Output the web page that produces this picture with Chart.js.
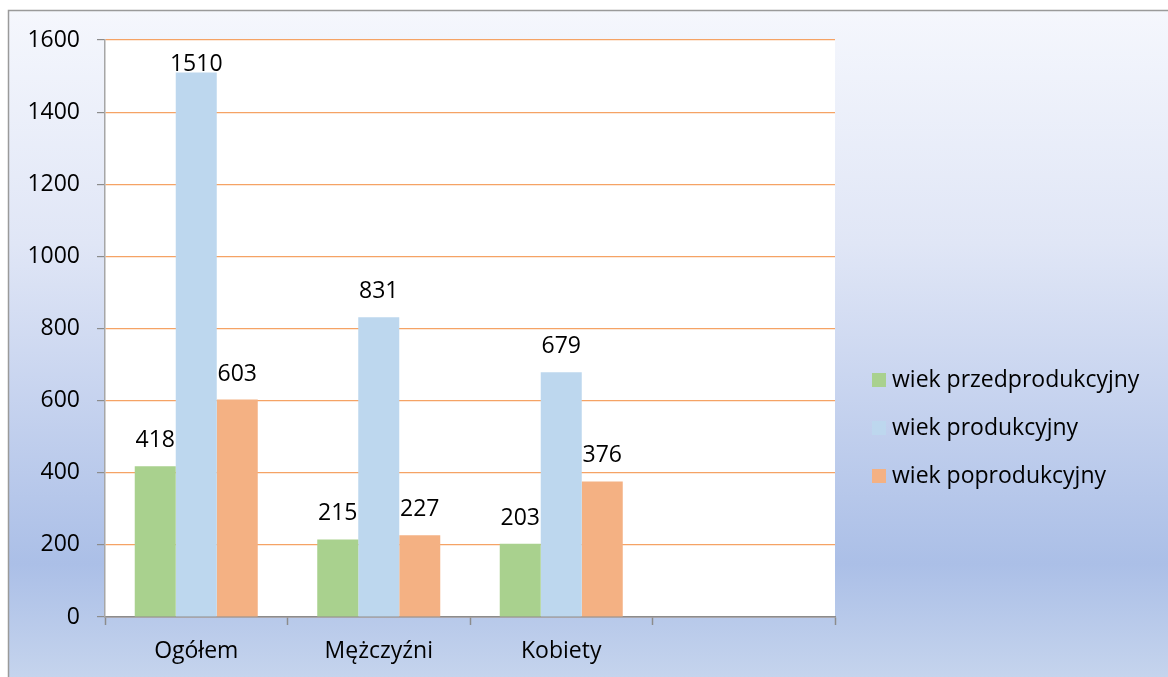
<!DOCTYPE html>
<html>
<head>
<meta charset="utf-8">
<script src="https://cdn.jsdelivr.net/npm/chart.js@4"></script>
<style>
html,body{margin:0;padding:0;background:#fff;}
#wrap{width:1168px;height:677px;position:relative;}
</style>
</head>
<body>
<div id="wrap"><canvas id="c" width="1168" height="677"></canvas></div>
<script>
const categories = ["Ogółem", "Mężczyźni", "Kobiety", ""];
const seriesNames = ["wiek przedprodukcyjny", "wiek produkcyjny", "wiek poprodukcyjny"];
const przedprodukcyjny = [418, 215, 203, null];
const produkcyjny = [1510, 831, 679, null];
const poprodukcyjny = [603, 227, 376, null];
const yTicks = [0, 200, 400, 600, 800, 1000, 1200, 1400, 1600];

const colors = ["#a9d18e", "#bdd7ee", "#f4b183"];
const FONT = "'Open Sans', 'Noto Sans', sans-serif";
const FS = 23;

const bgPlugin = {
  id: 'bg',
  beforeDraw(chart) {
    const ctx = chart.ctx, W = chart.width, H = chart.height;
    ctx.save();
    const g = ctx.createLinearGradient(0, 10, 0, H);
    g.addColorStop(0, '#f5f7fd');
    g.addColorStop(0.35, '#e0e6f6');
    g.addColorStop(0.83, '#abbfe7');
    g.addColorStop(1, '#c5d4ed');
    ctx.fillStyle = '#ffffff';
    ctx.fillRect(0, 0, W, H);
    ctx.fillStyle = g;
    ctx.fillRect(9, 11, W - 9, H - 11);
    ctx.strokeStyle = '#9a9a9a';
    ctx.lineWidth = 1.5;
    ctx.beginPath();
    ctx.moveTo(8.5, H);
    ctx.lineTo(8.5, 10.5);
    ctx.lineTo(W, 10.5);
    ctx.stroke();
    const a = chart.chartArea;
    ctx.fillStyle = '#ffffff';
    ctx.fillRect(a.left, a.top, a.right - a.left, a.bottom - a.top);
    ctx.restore();
  }
};

const labelPlugin = {
  id: 'vals',
  afterDatasetsDraw(chart) {
    const ctx = chart.ctx, a = chart.chartArea;
    ctx.save();
    ctx.font = FS + 'px ' + FONT;
    ctx.fillStyle = '#000';
    ctx.textAlign = 'center';
    ctx.textBaseline = 'alphabetic';
    chart.data.datasets.forEach((ds, i) => {
      const meta = chart.getDatasetMeta(i);
      meta.data.forEach((bar, j) => {
        const v = ds.data[j];
        if (v === null || v === undefined) return;
        const y = Math.max(bar.y - 19, a.top + 31);
        ctx.fillText(String(v), bar.x, y);
      });
    });
    ctx.restore();
  }
};

const legendPlugin = {
  id: 'leg',
  afterDraw(chart) {
    const ctx = chart.ctx;
    ctx.save();
    ctx.font = FS + 'px ' + FONT;
    ctx.textBaseline = 'middle';
    ctx.textAlign = 'left';
    chart.data.datasets.forEach((ds, i) => {
      const cy = 380 + i * 48;
      ctx.fillStyle = ds.backgroundColor;
      ctx.fillRect(872, cy - 7, 14, 14);
      ctx.fillStyle = '#000';
      ctx.fillText(ds.label, 892, cy);
    });
    ctx.restore();
  }
};

new Chart(document.getElementById('c'), {
  type: 'bar',
  data: {
    labels: categories,
    datasets: [
      { label: seriesNames[0], data: przedprodukcyjny, backgroundColor: colors[0] },
      { label: seriesNames[1], data: produkcyjny, backgroundColor: colors[1] },
      { label: seriesNames[2], data: poprodukcyjny, backgroundColor: colors[2] }
    ]
  },
  options: {
    responsive: false,
    animation: false,
    devicePixelRatio: 1,
    layout: { padding: { left: 10, top: 40, right: 333, bottom: 0 } },
    datasets: { bar: { categoryPercentage: 0.674, barPercentage: 1.0, borderWidth: 0 } },
    plugins: { legend: { display: false }, tooltip: { enabled: false } },
    scales: {
      x: {
        afterFit(s) { s.height = 60; },
        grid: { offset: true, drawOnChartArea: false, tickLength: 8, tickColor: '#8c8c8c', tickWidth: 1.5 },
        border: { color: '#8c8c8c', width: 1.5 },
        ticks: { color: '#000', padding: 13, font: { size: FS, family: FONT } }
      },
      y: {
        min: 0, max: 1600,
        afterFit(s) { s.width = 95; },
        afterBuildTicks(s) { s.ticks = yTicks.map(v => ({ value: v })); },
        grid: { color: '#f5a365', lineWidth: 1.2, tickLength: 8, tickColor: '#8c8c8c', drawTicks: true },
        border: { color: '#a6a6a6', width: 1.5 },
        ticks: { color: '#000', padding: 17, font: { size: FS, family: FONT }, callback: v => String(v) }
      }
    }
  },
  plugins: [bgPlugin, labelPlugin, legendPlugin]
});
</script>
</body>
</html>
